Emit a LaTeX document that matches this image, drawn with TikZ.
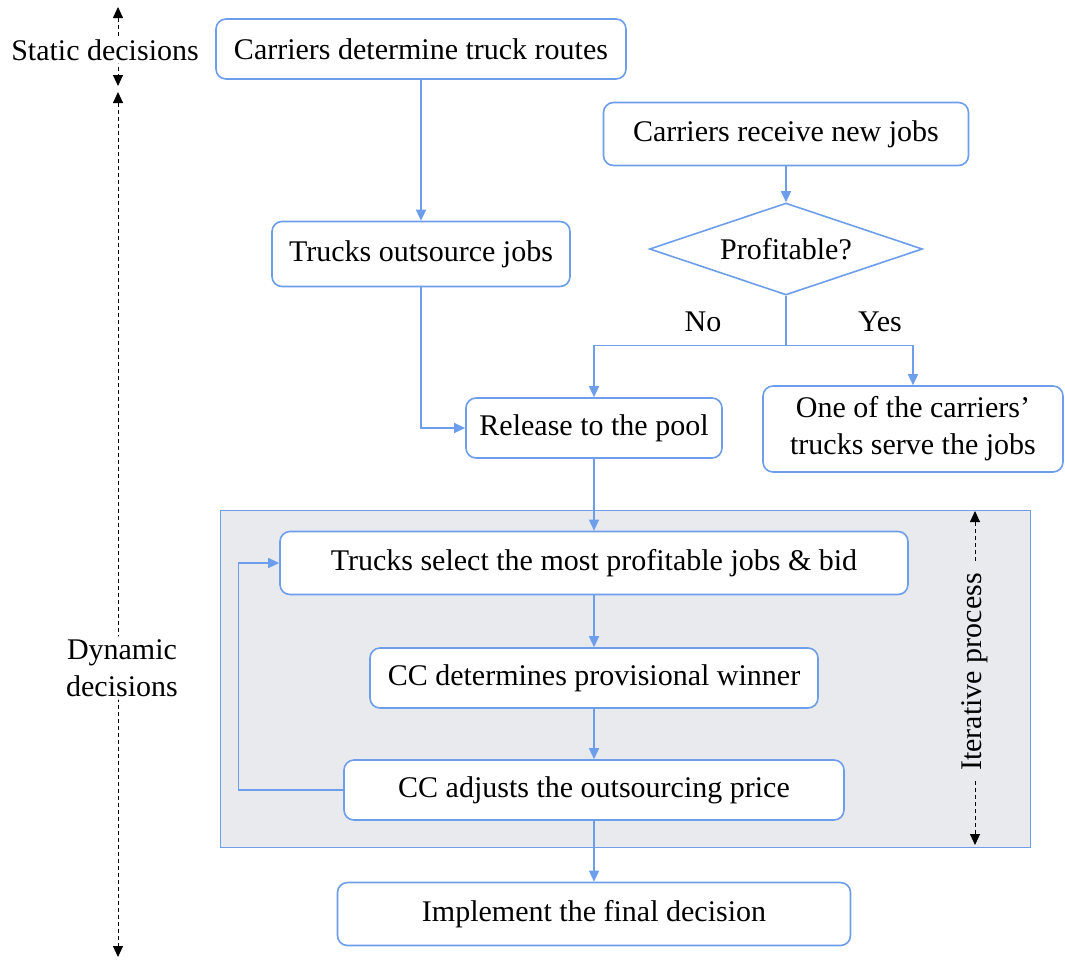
\documentclass[tikz,border=0pt]{standalone}
\usepackage{fontspec}
\setmainfont{Liberation Serif}
\usetikzlibrary{arrows.meta,shapes.geometric}
\definecolor{flowblue}{HTML}{6D9EEB}
\definecolor{panelgray}{HTML}{E9EAEE}

\begin{document}
\begin{tikzpicture}[x=1pt,y=-1pt,
    every node/.style={font=\fontsize{30}{37}\selectfont},
    box/.style={draw=flowblue,line width=1.6pt,rounded corners=10pt,fill=white,inner sep=4pt},
    decision/.style={diamond,draw=flowblue,line width=1.6pt,fill=white,inner sep=0pt,aspect=2.97,
      minimum width=273pt,minimum height=92pt},
    flow/.style={draw=flowblue,line width=1.3pt,-{Triangle[length=11pt,width=10pt]}},
    span/.style={black,line width=0.9pt,dash pattern=on 4pt off 3pt,
      {Triangle[length=11pt,width=10pt]}-{Triangle[length=11pt,width=10pt]}},
    tag/.style={fill=white,rounded corners=8pt,inner sep=3pt,align=center}]
  \useasboundingbox (0,0) rectangle (1065,959);

  % Panel of the iterative process
  \node[draw=flowblue,line width=1pt,fill=panelgray,minimum width=810pt,minimum height=337pt,inner sep=0pt]
    (panel) at (625,678.5) {};

  % Boxes
  \node[box,minimum width=410pt,minimum height=60pt] (routes) at (421,49) {Carriers determine truck routes};
  \node[box,minimum width=365pt,minimum height=63pt] (newjobs) at (786,134) {Carriers receive new jobs};
  \node[decision] (profit) at (786,249) {Profitable?};
  \node[box,minimum width=298pt,minimum height=65pt] (outsource) at (421,254) {Trucks outsource jobs};
  \node[box,minimum width=256pt,minimum height=60pt] (release) at (594,428) {Release to the pool};
  \node[box,minimum width=300pt,minimum height=86pt,align=center] (serve) at (913,429)
    {One of the carriers’\\trucks serve the jobs};
  \node[box,minimum width=628pt,minimum height=63pt] (select) at (594,563) {Trucks select the most profitable jobs \& bid};
  \node[box,minimum width=448pt,minimum height=60pt] (winner) at (594,678) {CC determines provisional winner};
  \node[box,minimum width=500pt,minimum height=60pt] (adjust) at (594,790) {CC adjusts the outsourcing price};
  \node[box,minimum width=513pt,minimum height=63pt] (final) at (594,914) {Implement the final decision};

  % Connectors
  \draw[flow] (routes) -- (outsource);
  \draw[flow] (newjobs) -- (profit);
  \draw[draw=flowblue,line width=1.3pt] (profit.south) -- ++(0,50) coordinate (split);
  \draw[flow] (split) -| (release.north);
  \draw[flow] (split) -| (serve.north);
  \draw[flow] (outsource.south) |- (release.west);
  \draw[flow] (release) -- (select);
  \draw[flow] (select) -- (winner);
  \draw[flow] (winner) -- (adjust);
  \draw[flow] (adjust.west) -- ++(-105,0) |- (select.west);
  \draw[flow] (adjust) -- (final);

  \node (no) at (703,322) {No};
  \node (yes) at (880,322) {Yes};

  % Time spans
  \coordinate (stop) at (118,7);
  \coordinate (sbot) at (118,86);
  \coordinate (dtop) at (118,92);
  \coordinate (dbot) at (118,957);
  \draw[span] (stop) -- (sbot);
  \draw[span] (dtop) -- (dbot);
  \node[tag,rounded corners=2pt] (static) at (105,50) {Static decisions};
  \node[tag] (dynamic) at (122,668) {Dynamic\\decisions};

  \coordinate (itop) at (975,511);
  \coordinate (ibot) at (975,845);
  \draw[span] (itop) -- (ibot);
  \node[fill=panelgray,rotate=90,inner xsep=10pt,inner ysep=2pt] (iter) at (975,672) {Iterative process};
\end{tikzpicture}
\end{document}
